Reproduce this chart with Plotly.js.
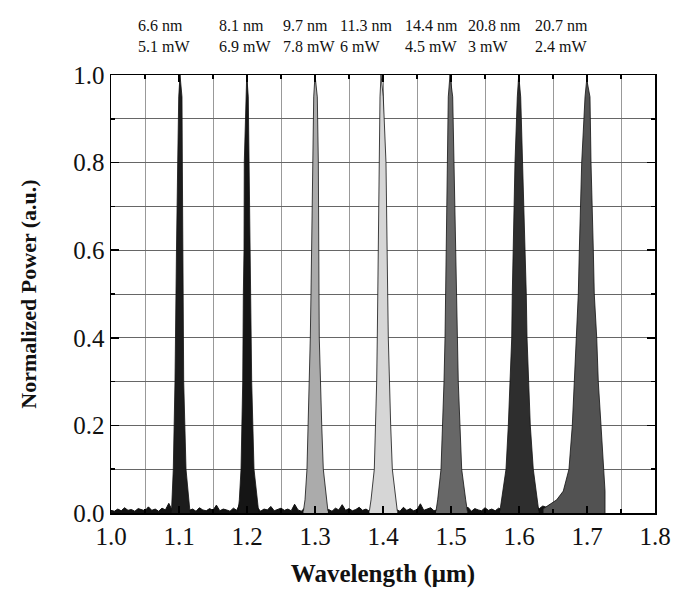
<!DOCTYPE html>
<html>
<head>
<meta charset="utf-8">
<script src="https://cdn.plot.ly/plotly-3.0.1.min.js"></script>
<style>html,body{margin:0;padding:0;background:#fff;}#chart{width:673px;height:592px;}</style>
</head>
<body>
<div id="chart"></div>
<script>
// Peak labels (linewidth / output power)
const widthLabels = ["6.6 nm", "8.1 nm", "9.7 nm", "11.3 nm", "14.4 nm", "20.8 nm", "20.7 nm"];
const powerLabels = ["5.1 mW", "6.9 mW", "7.8 mW", "6 mW", "4.5 mW", "3 mW", "2.4 mW"];

// Noise floor, sampled from 1.000 µm every 0.005 µm
const noiseStart = 1.0;
const noiseStep = 0.005;
const noiseFloor = [
0.006,0.004,0.009,0.005,0.012,0.006,0.008,0.004,0.010,0.007,
0.005,0.014,0.006,0.009,0.004,0.011,0.007,0.022,0.006,0.010,
0.008,0.005,0.013,0.006,0.009,0.004,0.012,0.007,0.005,0.010,
0.006,0.018,0.005,0.009,0.007,0.004,0.011,0.006,0.024,0.008,
0.005,0.010,0.006,0.013,0.004,0.009,0.007,0.015,0.005,0.008,
0.011,0.006,0.009,0.005,0.020,0.007,0.004,0.012,0.006,0.010,
0.005,0.009,0.014,0.006,0.008,0.004,0.011,0.007,0.019,0.006,
0.010,0.005,0.008,0.013,0.006,0.009,0.004,0.012,0.007,0.016,
0.006,0.009,0.005,0.011,0.007,0.004,0.013,0.006,0.010,0.005,
0.008,0.021,0.006,0.009,0.012,0.005,0.007,0.010,0.006,0.014,
0.008,0.005,0.011,0.006,0.009,0.013,0.004,0.010,0.007,0.005,
0.012,0.006,0.009,0.005,0.011,0.008,0.004,0.010,0.006,0.013,
0.008,0.011,0.007,0.012,0.009,0.014,0.010,0.016,0.013,0.018,
0.015,0.020,0.017,0.022,0.019,0.024,0.021,0.026,0.023,0.028,
0.025,0.027,0.024,0.026,0.022
];

// Peak spectra (wavelength in µm, normalized power)
const peak1X = [1.089,1.0897,1.0916,1.0941,1.0951,1.0963,1.0981,1.0996,1.1015,1.1044,1.1049,1.1054,1.1063,1.1069,1.1103,1.1137,1.116];
const peak1Y = [0.005,0.03,0.1,0.3,0.5,0.6,0.8,0.95,1.0,0.95,0.8,0.6,0.5,0.3,0.1,0.03,0.005];

const peak2X = [1.187,1.1887,1.1912,1.1937,1.1946,1.1956,1.196,1.1981,1.1996,1.2019,1.2029,1.2044,1.2054,1.2069,1.2103,1.2151,1.217];
const peak2Y = [0.005,0.03,0.1,0.3,0.5,0.6,0.8,0.95,1.0,0.95,0.8,0.6,0.5,0.3,0.1,0.03,0.005];

const peak3X = [1.283,1.2853,1.2882,1.2901,1.2916,1.2931,1.2941,1.2951,1.296,1.2981,1.3,1.3034,1.3049,1.3049,1.3059,1.3063,1.3078,1.3099,1.3122,1.3172,1.319];
const peak3Y = [0.005,0.03,0.1,0.2,0.3,0.4,0.5,0.6,0.8,0.95,1.0,0.95,0.8,0.6,0.5,0.4,0.3,0.2,0.1,0.03,0.005];

const peak4X = [1.380,1.3824,1.3872,1.3893,1.3907,1.3916,1.3922,1.3931,1.3946,1.3956,1.3971,1.4004,1.4044,1.4054,1.4069,1.4078,1.4093,1.4113,1.4137,1.4187,1.421];
const peak4Y = [0.005,0.03,0.1,0.2,0.3,0.4,0.5,0.6,0.8,0.95,1.0,0.95,0.8,0.6,0.5,0.4,0.3,0.2,0.1,0.03,0.005];

const peak5X = [1.478,1.4804,1.4853,1.4878,1.4897,1.4912,1.4922,1.4926,1.4946,1.496,1.4985,1.5025,1.5044,1.5069,1.5084,1.5103,1.5107,1.5132,1.5157,1.5216,1.524];
const peak5Y = [0.005,0.03,0.1,0.2,0.3,0.4,0.5,0.6,0.8,0.95,1.0,0.95,0.8,0.6,0.5,0.4,0.3,0.2,0.1,0.03,0.005];

const peak6X = [1.572,1.5746,1.5809,1.5843,1.5868,1.5893,1.5901,1.5916,1.5941,1.5975,1.5996,1.6025,1.6054,1.6098,1.6107,1.6118,1.6137,1.6166,1.621,1.6269,1.629];
const peak6Y = [0.005,0.03,0.1,0.2,0.3,0.4,0.5,0.6,0.8,0.95,1.0,0.95,0.8,0.6,0.5,0.4,0.3,0.2,0.1,0.03,0.005];

const peak7X = [1.636,1.6407,1.6554,1.6651,1.6735,1.6784,1.6813,1.6849,1.6872,1.6887,1.6922,1.6971,1.6996,1.7044,1.7059,1.7093,1.7107,1.7143,1.7166,1.7206,1.724,1.7265,1.7265];
const peak7Y = [0.01,0.015,0.03,0.05,0.1,0.2,0.3,0.4,0.5,0.6,0.8,0.95,0.99,0.95,0.8,0.6,0.5,0.4,0.3,0.2,0.1,0.05,0.0];

const peakXs = [peak1X, peak2X, peak3X, peak4X, peak5X, peak6X, peak7X];
const peakYs = [peak1Y, peak2Y, peak3Y, peak4Y, peak5Y, peak6Y, peak7Y];
const peakFills = ["#1c1c1c", "#151515", "#ababab", "#d6d6d6", "#676767", "#2e2e2e", "#525252"];

const serif = "Liberation Serif, Times New Roman, serif";

const traces = [{
  type: "scatter", mode: "lines",
  x0: noiseStart, dx: noiseStep, y: noiseFloor,
  fill: "tozeroy", fillcolor: "#111",
  line: {color: "#111", width: 1},
  hoverinfo: "skip", showlegend: false
}];
peakXs.forEach((px, i) => {
  traces.push({
    type: "scatter", mode: "lines",
    x: px, y: peakYs[i],
    fill: "tozeroy", fillcolor: peakFills[i],
    line: {color: "#111", width: 0.8},
    showlegend: false
  });
});

const labelPosX = [0.046, 0.195, 0.3125, 0.417, 0.537, 0.6526, 0.7757];
const annotations = widthLabels.map((w, i) => ({
  xref: "paper", yref: "paper",
  x: labelPosX[i], y: 1.09,
  xanchor: "left", yanchor: "middle", align: "left",
  text: w + "<br>" + powerLabels[i],
  showarrow: false,
  font: {family: serif, size: 16, color: "#111"}
}));

const layout = {
  width: 673, height: 592,
  margin: {l: 111, r: 18, t: 75, b: 79},
  paper_bgcolor: "#fff", plot_bgcolor: "#fff",
  showlegend: false,
  annotations: annotations,
  xaxis: {
    range: [1.0, 1.8], dtick: 0.1, tick0: 1.0, tickformat: ".1f",
    ticks: "inside", ticklen: 7, tickwidth: 1.5, tickcolor: "#000",
    showline: true, linecolor: "#000", linewidth: 1.5, mirror: "ticks",
    showgrid: true, gridcolor: "#888", gridwidth: 1,
    zeroline: false,
    minor: {dtick: 0.05, ticks: "inside", ticklen: 4, tickcolor: "#000", showgrid: true, gridcolor: "#999", gridwidth: 1},
    tickfont: {family: serif, size: 25, color: "#111"},
    title: {text: "Wavelength (μm)", font: {family: serif, size: 25, color: "#111", weight: "bold"}, standoff: 16},
    automargin: false
  },
  yaxis: {
    range: [0, 1.0], dtick: 0.2, tick0: 0, tickformat: ".1f",
    ticks: "inside", ticklen: 8, tickwidth: 1.5, tickcolor: "#000",
    showline: true, linecolor: "#000", linewidth: 1.5, mirror: "ticks",
    showgrid: true, gridcolor: "#666", gridwidth: 1,
    zeroline: false,
    minor: {dtick: 0.1, ticks: "inside", ticklen: 4, tickcolor: "#000", showgrid: true, gridcolor: "#666", gridwidth: 1},
    tickfont: {family: serif, size: 25, color: "#111"},
    title: {text: "Normalized Power (a.u.)", font: {family: serif, size: 22, color: "#111", weight: "bold"}, standoff: 30},
    automargin: false
  }
};

Plotly.newPlot("chart", traces, layout, {displayModeBar: false, staticPlot: true});
</script>
</body>
</html>
